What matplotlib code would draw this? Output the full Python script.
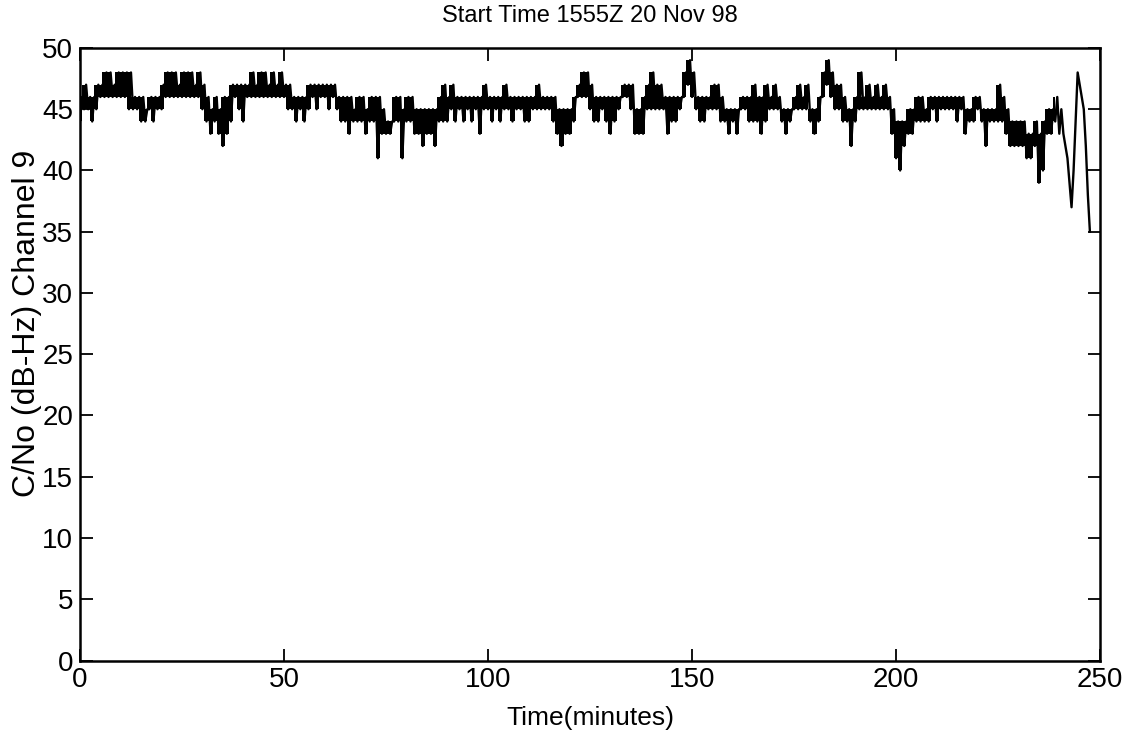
import matplotlib
matplotlib.use("Agg")
import matplotlib.pyplot as plt
from matplotlib import font_manager
import numpy as np

plt.rcParams['font.family'] = ['Liberation Sans', 'DejaVu Sans']
_names = {f.name for f in font_manager.fontManager.ttflist}
title_family = ['Liberation Sans Narrow', 'Liberation Sans'] if 'Liberation Sans Narrow' in _names else ['Liberation Sans']
title_size = 20 if 'Liberation Sans Narrow' in _names else 17

# Two C/No samples per minute (at t and t+0.5 min)
minutes = list(range(0, 248))
cn0_first = [
    44, 45, 45, 44, 45, 46, 46, 46, 46, 46, 46, 46, 45, 45, 45, 44, 44, 45, 44, 45,
    45, 46, 46, 46, 46, 46, 46, 46, 46, 46, 45, 44, 43, 44, 43, 42, 43, 44, 46, 45,
    44, 46, 46, 46, 46, 46, 46, 46, 46, 46, 46, 45, 45, 44, 45, 44, 45, 46, 45, 46,
    46, 45, 46, 45, 44, 44, 43, 44, 44, 44, 43, 44, 44, 41, 43, 43, 43, 44, 44, 41,
    44, 44, 43, 43, 42, 43, 43, 42, 44, 44, 44, 45, 44, 45, 44, 45, 44, 45, 43, 45,
    45, 44, 45, 44, 45, 45, 44, 45, 45, 44, 44, 45, 45, 45, 45, 45, 44, 43, 42, 43,
    43, 44, 46, 46, 46, 45, 44, 44, 45, 44, 43, 44, 45, 46, 46, 45, 43, 43, 43, 45,
    45, 45, 45, 45, 43, 44, 44, 45, 46, 47, 46, 45, 44, 44, 45, 45, 45, 44, 44, 43,
    44, 43, 45, 45, 44, 44, 44, 43, 44, 45, 45, 45, 44, 43, 44, 45, 45, 45, 45, 44,
    43, 44, 46, 47, 46, 45, 45, 44, 44, 42, 44, 45, 45, 45, 45, 45, 45, 45, 45, 43,
    41, 40, 42, 43, 43, 44, 44, 44, 44, 45, 44, 45, 45, 45, 45, 44, 45, 43, 44, 44,
    45, 44, 42, 44, 44, 44, 44, 43, 42, 42, 42, 42, 41, 41, 42, 39, 40, 43, 43, 44,
    43, 43, 41, 37, 44, 47, 45, 38,
]
cn0_second = [
    46, 47, 46, 46, 47, 47, 48, 48, 47, 48, 48, 48, 48, 46, 46, 46, 45, 46, 46, 46,
    47, 48, 48, 48, 47, 48, 48, 48, 47, 48, 47, 46, 45, 46, 45, 46, 46, 47, 47, 47,
    47, 47, 48, 47, 48, 48, 47, 48, 47, 48, 47, 47, 46, 46, 46, 46, 47, 47, 47, 47,
    47, 47, 47, 46, 46, 46, 46, 45, 46, 46, 45, 46, 46, 46, 45, 44, 44, 46, 46, 45,
    46, 46, 45, 45, 45, 45, 45, 45, 46, 47, 46, 47, 46, 46, 46, 46, 46, 46, 46, 47,
    46, 46, 46, 46, 47, 46, 46, 46, 46, 46, 46, 46, 47, 46, 46, 46, 46, 45, 45, 45,
    45, 46, 47, 48, 48, 47, 46, 46, 46, 46, 46, 46, 46, 47, 47, 47, 45, 45, 46, 47,
    48, 47, 47, 46, 46, 46, 46, 46, 48, 49, 48, 46, 46, 46, 46, 47, 47, 46, 45, 45,
    45, 45, 46, 46, 46, 47, 46, 46, 47, 46, 47, 46, 45, 45, 45, 46, 47, 46, 47, 45,
    45, 46, 48, 49, 48, 47, 47, 46, 45, 45, 46, 48, 46, 47, 46, 47, 46, 47, 46, 45,
    44, 44, 44, 45, 45, 46, 46, 45, 46, 46, 46, 46, 46, 46, 46, 46, 46, 45, 45, 46,
    46, 45, 45, 45, 45, 47, 46, 45, 44, 44, 44, 44, 43, 43, 44, 43, 44, 45, 45, 46,
    45, 42, 39, 40, 48, 46, 42, 35,
]

x_ticks = [0, 50, 100, 150, 200, 250]
y_ticks = [0, 5, 10, 15, 20, 25, 30, 35, 40, 45, 50]

m = np.array(minutes, dtype=float)
a = np.array(cn0_first, dtype=float)
b = np.array(cn0_second, dtype=float)
t = np.empty(2 * len(m))
v = np.empty(2 * len(m))
t[0::2] = m
t[1::2] = m + 0.5
v[0::2] = a
v[1::2] = b

fig = plt.figure(figsize=(11.36, 7.38), dpi=100)
ax = fig.add_axes([0.0704, 0.105, 0.898, 0.83])

# solid quantised band (the dense sampling of the original) for the noisy part
band = m < 240
ax.fill_between(m[band], np.minimum(a, b)[band], np.maximum(a, b)[band],
                step='mid', color='black', linewidth=0)
ax.plot(t, v, color='black', linewidth=1.7)

ax.set_xlim(0, 250)
ax.set_ylim(0, 50)
ax.set_xticks(x_ticks)
ax.set_yticks(y_ticks)
ax.tick_params(direction='in', length=9, width=1.3, top=True, right=True,
               labelsize=20, pad=5)
for s in ax.spines.values():
    s.set_linewidth(1.8)

ax.set_title('Start Time 1555Z 20 Nov 98', fontsize=title_size, pad=19,
             family=title_family)
ax.set_xlabel('Time(minutes)', fontsize=19, labelpad=9)
ax.set_ylabel('C/No (dB-Hz) Channel 9', fontsize=23)
ax.yaxis.set_label_coords(-0.037, 0.55)

fig.savefig('out.png', dpi=100)
